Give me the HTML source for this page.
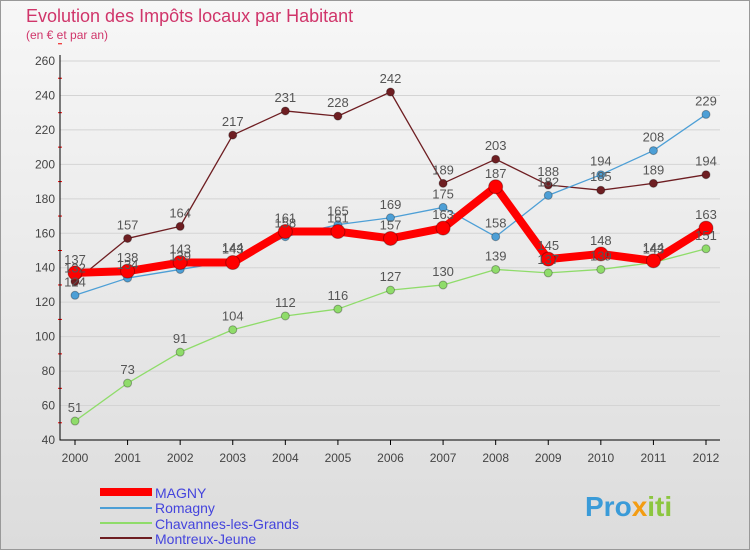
<!DOCTYPE html>
<html><head><meta charset="utf-8"><style>
body{margin:0;width:750px;height:550px;overflow:hidden;font-family:"Liberation Sans",sans-serif}
svg text{font-family:"Liberation Sans",sans-serif}
</style></head><body>
<svg id="c" width="750" height="550" xmlns="http://www.w3.org/2000/svg">
<defs><linearGradient id="bg" x1="0" y1="0" x2="0" y2="1"><stop offset="0" stop-color="#f7f7f7"/><stop offset="1" stop-color="#dcdcdc"/></linearGradient></defs>
<rect x="0.5" y="0.5" width="749" height="549" fill="url(#bg)" stroke="#999"/>
<text x="26" y="22" font-size="18" fill="#d0356a">Evolution des Impôts locaux par Habitant</text>
<text x="26" y="39" font-size="12" fill="#d0356a">(en € et par an)</text>
<g id="grid"></g><g id="axes"></g><g id="series"></g><g id="labels"></g>
<g>
<line x1="100" y1="492" x2="152" y2="492" stroke="#f00" stroke-width="8"/>
<text x="155" y="498" font-size="14" fill="#4444dd">MAGNY</text>
<line x1="100" y1="508" x2="152" y2="508" stroke="#4d9fd6" stroke-width="2"/>
<text x="155" y="513" font-size="14" fill="#4444dd">Romagny</text>
<line x1="100" y1="523" x2="152" y2="523" stroke="#8fdc6a" stroke-width="2"/>
<text x="155" y="529" font-size="14" fill="#4444dd">Chavannes-les-Grands</text>
<line x1="100" y1="538" x2="152" y2="538" stroke="#6e1e22" stroke-width="2"/>
<text x="155" y="544" font-size="14" fill="#4444dd">Montreux-Jeune</text>
</g>
<text x="585" y="516" font-size="28" font-weight="bold" fill="#3a9bd8">Pro<tspan fill="#f39c12">x</tspan><tspan fill="#8cc63f">iti</tspan></text>
</svg>
<script>
const years=[2000,2001,2002,2003,2004,2005,2006,2007,2008,2009,2010,2011,2012];
const yTicks=[40,60,80,100,120,140,160,180,200,220,240,260];
const magny=[137,138,143,143,161,161,157,163,187,145,148,144,163];
const romagny=[124,134,139,144,158,165,169,175,158,182,194,208,229];
const chavannes=[51,73,91,104,112,116,127,130,139,137,139,143,151];
const montreux=[132,157,164,217,231,228,242,189,203,188,185,189,194];
const NS="http://www.w3.org/2000/svg";
const X=i=>75+i*(706-75)/12, Y=v=>440-(v-40)*(440-61)/220;
function mk(t,a,p){const e=document.createElementNS(NS,t);for(const k in a)e.setAttribute(k,a[k]);document.getElementById(p).appendChild(e);return e;}
yTicks.forEach(v=>{
 const g=mk('line',{x1:60,x2:720,y1:Y(v),y2:Y(v),stroke:'#d4d4d4','stroke-width':1},'grid');
 
 
 const t=mk('text',{x:55,y:Y(v)+4,'font-size':12,'text-anchor':'end',fill:'#444'},'axes');t.textContent=v;
 
 
 const m=mk('line',{x1:58,x2:62,y1:Y(v+10),y2:Y(v+10),stroke:'#e00'},'axes');
 
 
});
const ax=mk('path',{d:`M60 55V440H720`,stroke:'#000',fill:'none'},'axes');


years.forEach((y,i)=>{
 const t=mk('text',{x:X(i),y:462,'font-size':12,'text-anchor':'middle',fill:'#444'},'axes');t.textContent=y;
 
 
 const k=mk('line',{x1:X(i),x2:X(i),y1:440,y2:445,stroke:'#000'},'axes');
 
 
});
function series(d,col,w,r,name){
 const p=mk('polyline',{points:d.map((v,i)=>X(i)+','+Y(v)).join(' '),fill:'none',stroke:col,'stroke-width':w,'stroke-linejoin':'round'},'series');
 
 
 d.forEach((v,i)=>{
  const c=mk('circle',{cx:X(i),cy:Y(v),r:r,fill:col,stroke:'rgba(0,0,0,0.3)','stroke-width':1},'series');
  
  
  const t=mk('text',{x:X(i),y:Y(v)-9,'font-size':13,'text-anchor':'middle',fill:'#555'},'labels');t.textContent=v;
  
  
 });
}
series(chavannes,'#8fdc6a',1.3,4,'chavannes');
series(montreux,'#6e1e22',1.3,4,'montreux');
series(romagny,'#4d9fd6',1.3,4,'romagny');
series(magny,'#f00',8,7,'magny');
</script>
</body></html>
